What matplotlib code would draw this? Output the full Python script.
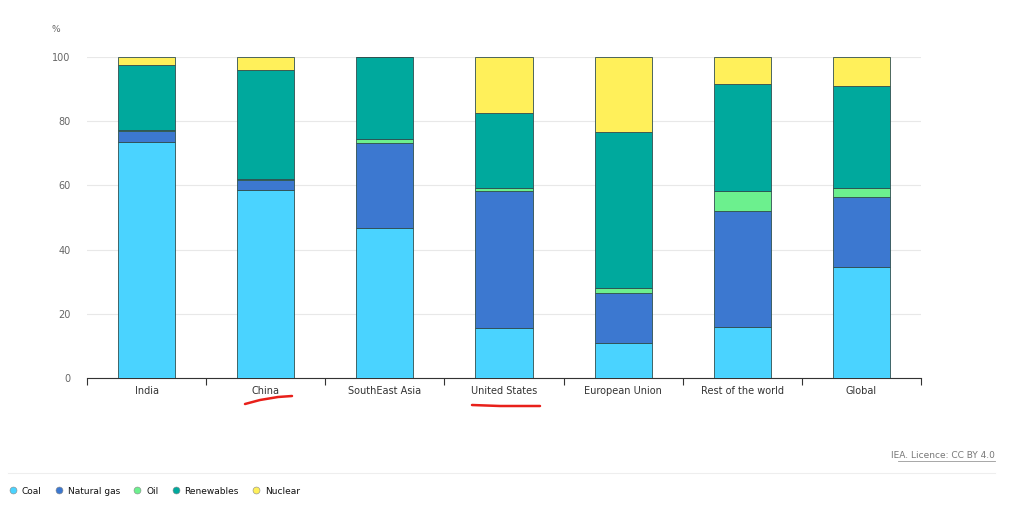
#!/usr/bin/env python3
"""Barras apiladas al 100% de la mezcla eléctrica por región (IEA)."""

import matplotlib.pyplot as plt
import numpy as np
from matplotlib.lines import Line2D

REGIONS = ["India", "China", "SouthEast Asia", "United States",
           "European Union", "Rest of the world", "Global"]
SOURCES = ["Coal", "Natural gas", "Oil", "Renewables", "Nuclear"]

COAL = [73.6, 58.5, 46.8, 15.7, 10.8, 16.0, 34.7]
NATURAL_GAS = [3.3, 3.2, 26.3, 42.6, 15.8, 36.0, 21.8]
OIL = [0.3, 0.2, 1.2, 0.8, 1.3, 6.4, 2.6]
RENEWABLES = [20.2, 33.9, 25.7, 23.4, 48.7, 33.1, 31.9]
NUCLEAR = [2.6, 4.2, 0.0, 17.5, 23.4, 8.5, 9.0]

Y_TICKS = [0, 20, 40, 60, 80, 100]

COLORS = ["#4ad3ff", "#3c78d0", "#6cf08e", "#00a99d", "#fff05a"]


def main() -> None:
    fig = plt.figure(figsize=(10.09, 5.07), dpi=100)
    ax = fig.add_axes([87 / 1009, 1 - 378 / 507, (921 - 87) / 1009, (378 - 57) / 507])

    x = np.arange(len(REGIONS))
    bottom = np.zeros(len(REGIONS))
    for values, color in zip([COAL, NATURAL_GAS, OIL, RENEWABLES, NUCLEAR], COLORS):
        values = np.array(values)
        ax.bar(x, values, width=0.48, bottom=bottom, color=color,
               edgecolor="#2f4f4f", linewidth=0.6, zorder=3)
        bottom += values

    ax.set_xlim(-0.5, len(REGIONS) - 0.5)
    ax.set_ylim(0, 100)
    ax.set_yticks(Y_TICKS)
    ax.set_yticklabels([str(v) for v in Y_TICKS])
    ax.set_xticks(x)
    ax.set_xticklabels(REGIONS)
    ax.set_xticks(np.arange(-0.5, len(REGIONS)), minor=True)
    ax.tick_params(axis="x", which="major", length=0, pad=6, labelsize=7, labelcolor="#333333")
    ax.tick_params(axis="x", which="minor", length=5, width=0.8, color="#333333", direction="out")
    ax.tick_params(axis="y", length=0, pad=12, labelsize=7, labelcolor="#666666")
    ax.grid(axis="y", color="#e8e8e8", linewidth=0.8, zorder=0)

    for side in ("top", "right", "left"):
        ax.spines[side].set_visible(False)
    ax.spines["bottom"].set_color("#333333")
    ax.spines["bottom"].set_linewidth(0.8)

    fig.text(52 / 1009, 1 - 29 / 507, "%", fontsize=6.5, color="#666666", va="center")

    # trazos rojos a mano bajo China y United States
    fig.add_artist(Line2D([245 / 1009, 260 / 1009, 278 / 1009, 292 / 1009],
                          [1 - 404 / 507, 1 - 400 / 507, 1 - 397 / 507, 1 - 396 / 507],
                          color="#e8201a", linewidth=1.8, solid_capstyle="round"))
    fig.add_artist(Line2D([472 / 1009, 500 / 1009, 540 / 1009],
                          [1 - 405 / 507, 1 - 406 / 507, 1 - 406 / 507],
                          color="#e8201a", linewidth=1.8, solid_capstyle="round"))

    fig.text(995 / 1009, 1 - 456 / 507, "IEA. Licence: CC BY 4.0", fontsize=6.5,
             color="#777777", ha="right", va="center")
    fig.add_artist(Line2D([898 / 1009, 995 / 1009], [1 - 461 / 507, 1 - 461 / 507],
                          color="#999999", linewidth=0.6))
    fig.add_artist(Line2D([8 / 1009, 995 / 1009], [1 - 473 / 507, 1 - 473 / 507],
                          color="#eeeeee", linewidth=0.8))

    handles = [Line2D([], [], marker="o", linestyle="", markersize=5,
                      markerfacecolor=c, markeredgecolor="#888888", markeredgewidth=0.4)
               for c in COLORS]
    fig.legend(handles, SOURCES, loc="center left", bbox_to_anchor=(0 / 1009, 1 - 491 / 507),
               ncol=5, frameon=False, handletextpad=0.5,
               columnspacing=1.4, labelcolor="#111111", handlelength=1.0,
               prop={"size": 6.5})

    fig.savefig("out.png", dpi=100)


if __name__ == "__main__":
    main()
